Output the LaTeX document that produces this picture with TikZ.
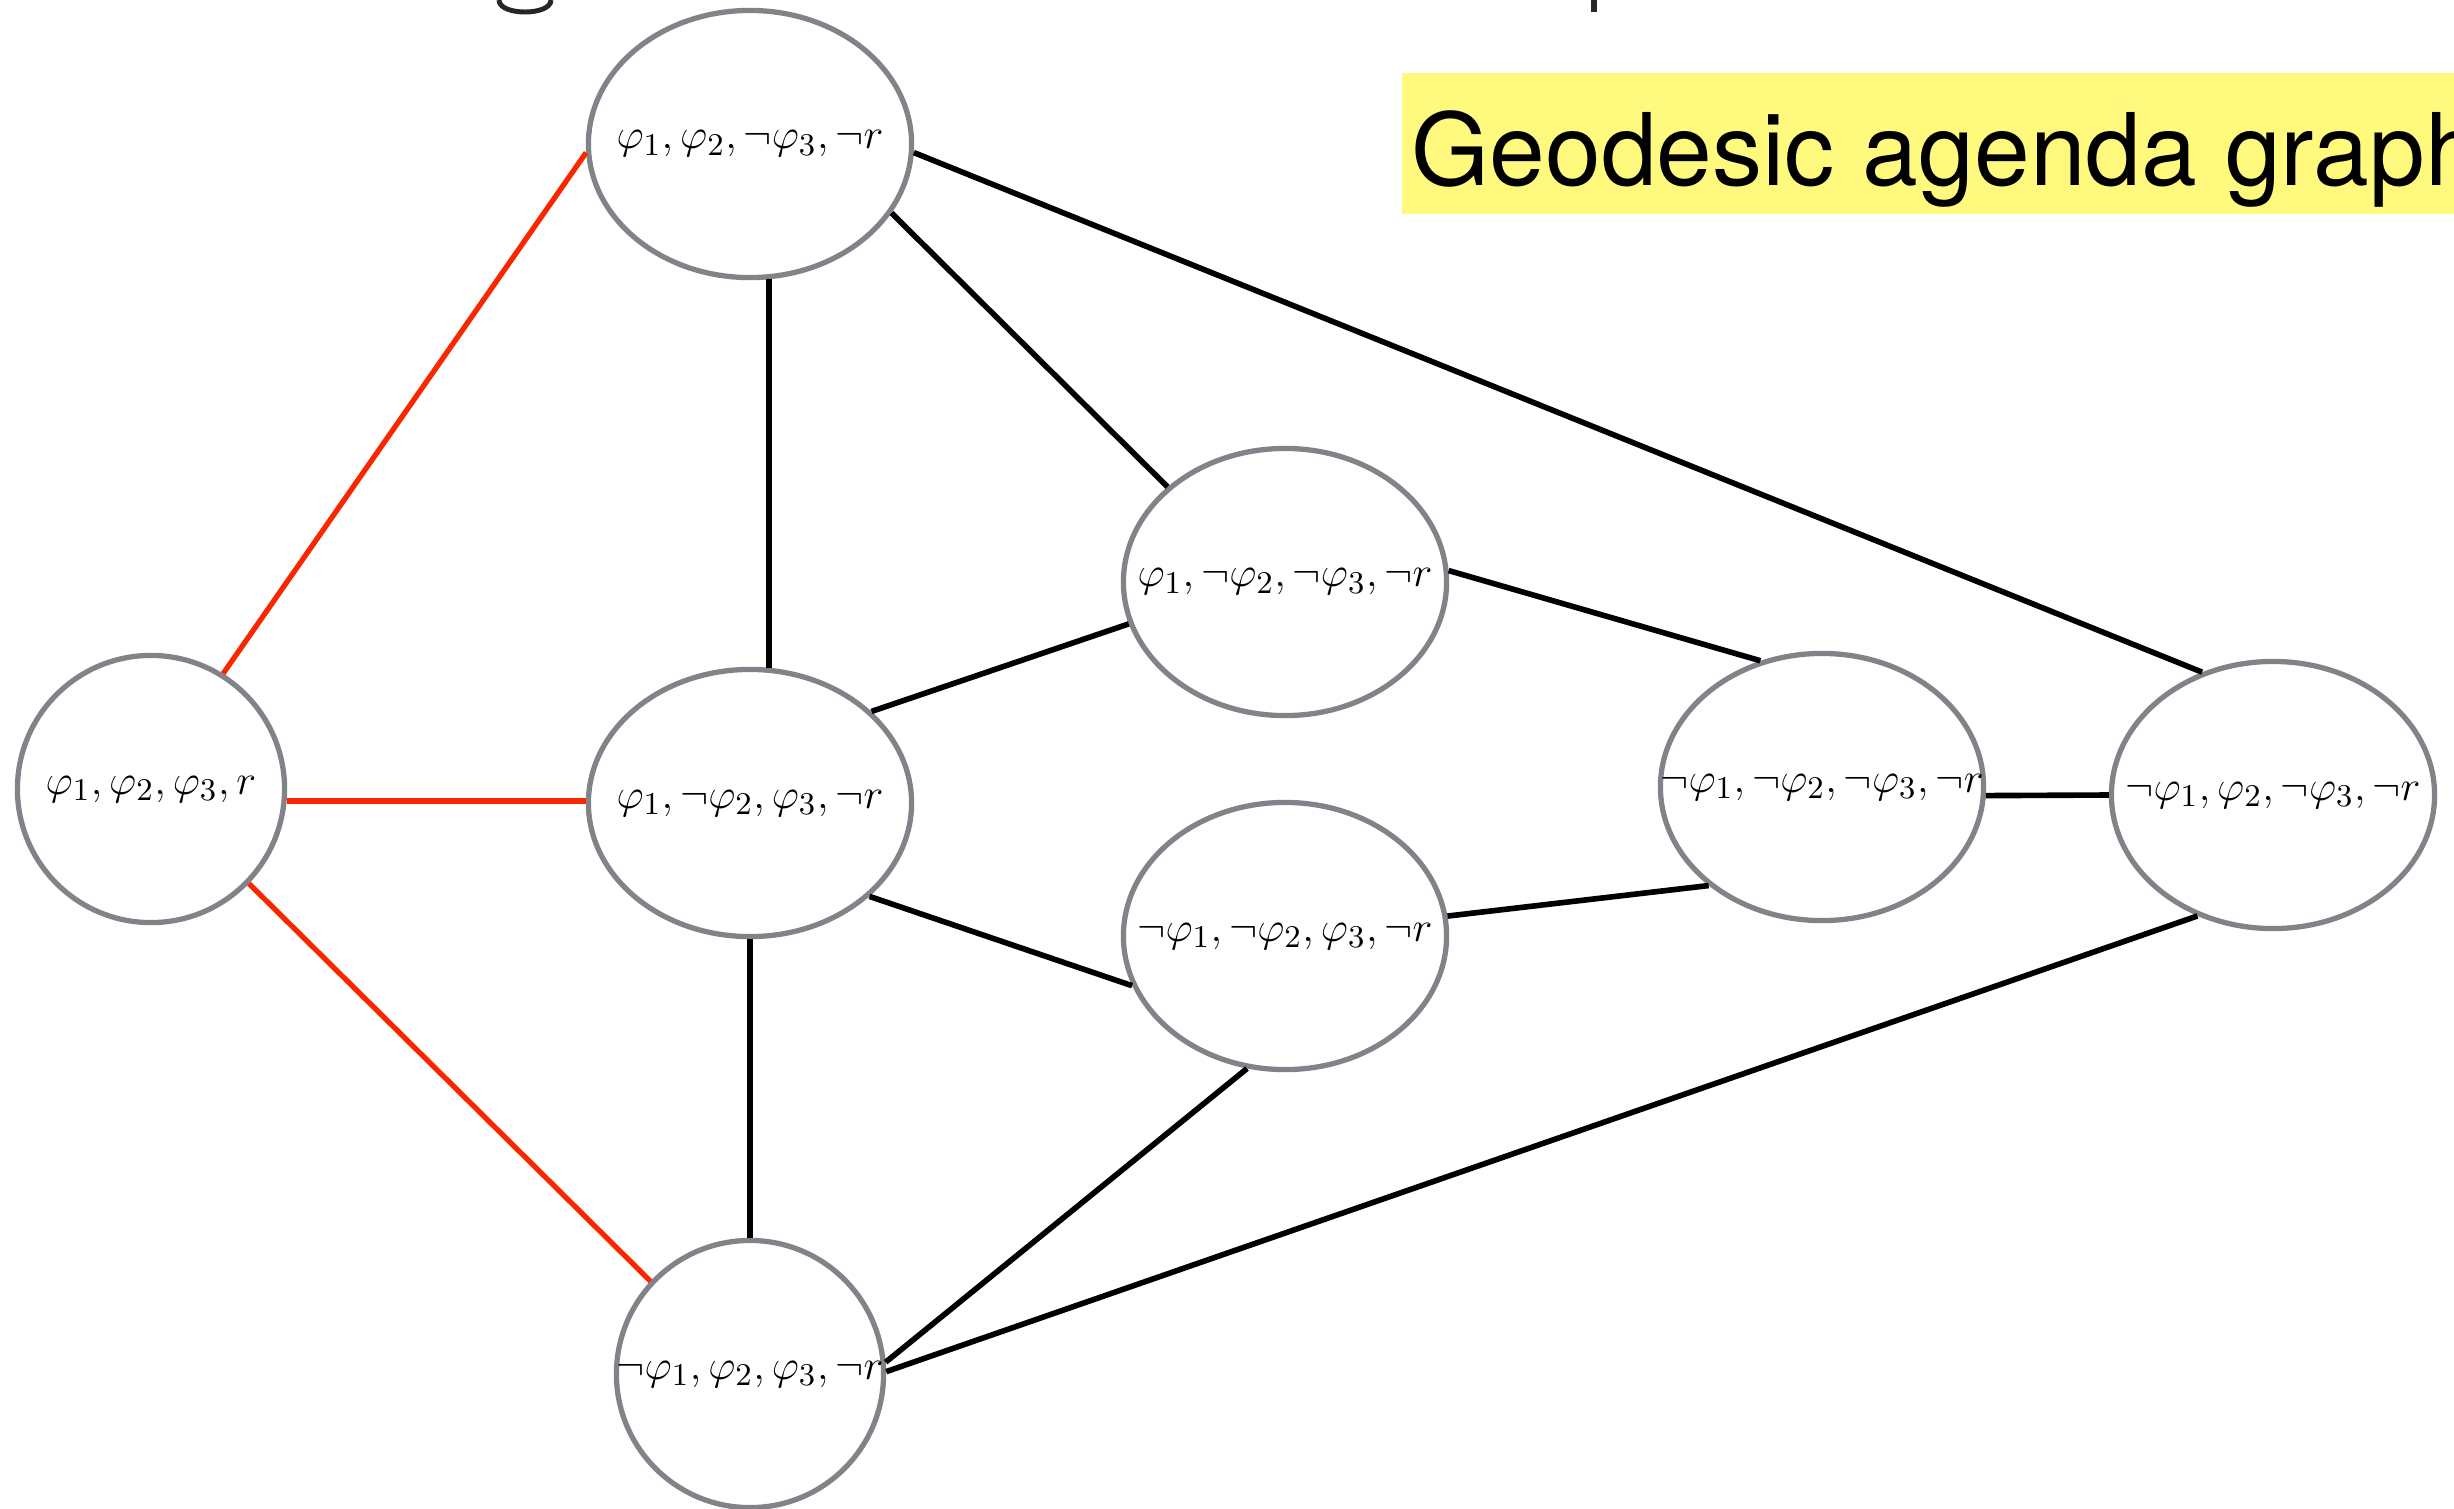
\documentclass[tikz,border=0pt]{standalone}
\usepackage{fontspec}
\newfontfamily\tagfont{TeX Gyre Heros}
\usetikzlibrary{shapes.geometric,calc}
\definecolor{rimgray}{RGB}{130,131,137}
\definecolor{geored}{RGB}{250,38,0}
\definecolor{tagyellow}{RGB}{255,250,125}
\newcommand{\myunit}{0.01cm}
\tikzset{
    wsty/.style={draw=rimgray,line width=1.5pt,ellipse,minimum width=3.23cm,minimum height=2.67cm,inner sep=0pt,label={[font=\fontsize{12.5}{15}\selectfont]center:#1}},
    csty/.style={wsty={#1},minimum width=2.67cm},
    edgesty/.style={line width=1.6pt},
    redsty/.style={edgesty,draw=geored,line width=1.5pt},
    tagsty/.style={fill=tagyellow,inner xsep=0.1cm,inner ysep=0pt,text height=1.12cm,text depth=0.29cm,font=\tagfont\fontsize{28.5}{34}\selectfont},
    cutsty/.style={line width=1.4pt,draw=black!85},
}

\begin{document}
\begin{tikzpicture}[x=\myunit,y=-\myunit]
\useasboundingbox (0,0) rectangle (2454,1508);

\node[wsty={$\varphi_1,\varphi_2,\neg\varphi_3,\neg r$}] (A) at (750,144) {};
\node[csty={$\varphi_1,\varphi_2,\varphi_3,r$}] (B) at (151,789) {};
\node[wsty={$\varphi_1,\neg\varphi_2,\varphi_3,\neg r$}] (C) at (750,803) {};
\node[wsty={$\varphi_1,\neg\varphi_2,\neg\varphi_3,\neg r$}] (D) at (1285,582) {};
\node[wsty={$\neg\varphi_1,\neg\varphi_2,\varphi_3,\neg r$}] (E) at (1285,936) {};
\node[wsty={$\neg\varphi_1,\neg\varphi_2,\neg\varphi_3,\neg r$}] (F) at (1822,787) {};
\node[wsty={$\neg\varphi_1,\varphi_2,\neg\varphi_3,\neg r$}] (G) at (2273,795) {};
\node[csty={$\neg\varphi_1,\varphi_2,\varphi_3,\neg r$}] (H) at (750,1374) {};

\node[tagsty,anchor=base west] (tag) at (1401,185) {Geodesic agenda graph};

\draw[cutsty] (499,0) .. controls (499,16) and (551,16) .. (551,0);
\draw[cutsty,line width=1.7pt] (1594,0) -- (1594,12);

\draw[redsty] (B.58) -- (A.183);
\draw[redsty] (B.-5) -- (B.-5 -| C.west);
\draw[redsty] (B.-44) -- (H.137);
\draw[edgesty] (A.-82) -- (C.82);
\draw[edgesty] (A.-26) -- (D.141);
\draw[edgesty] (A.-3) -- (G.120);
\draw[edgesty] (C.37) -- (D.195);
\draw[edgesty] (C.-38) -- (E.198);
\draw[edgesty] (C.south) -- (H.north);
\draw[edgesty] (D.4) -- (F.116);
\draw[edgesty] (E.7) -- (F.221);
\draw[edgesty] (E.254) -- (H.5);
\draw[edgesty] (F.-3) -- (G.180);
\draw[edgesty] (G.238) -- (H.1);
\end{tikzpicture}
\end{document}
